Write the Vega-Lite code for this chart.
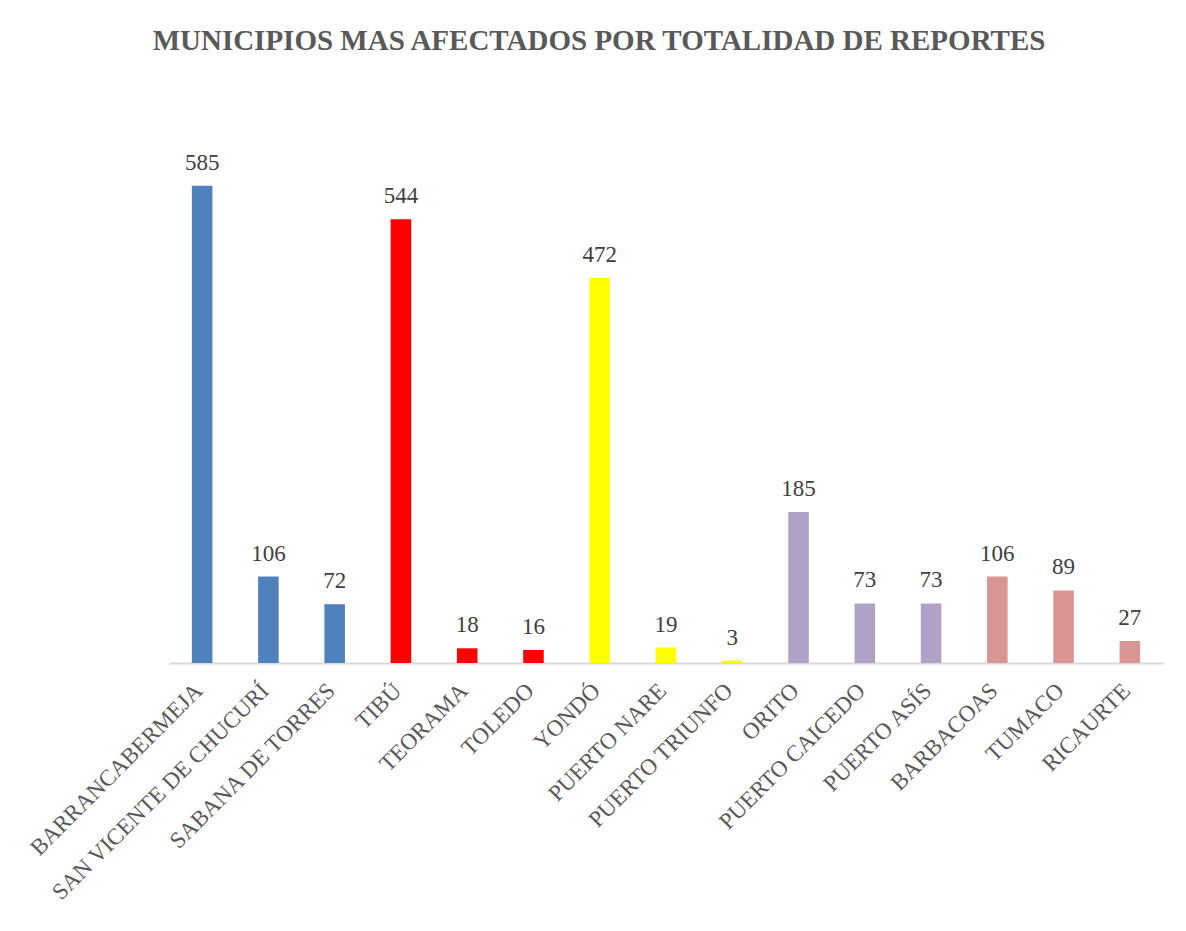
{
  "$schema": "https://vega.github.io/schema/vega-lite/v6.json",
  "width": 994,
  "height": 571,
  "autosize": "none",
  "padding": {"left": 169, "top": 92, "right": 23, "bottom": 268},
  "background": "white",
  "title": {
    "text": "MUNICIPIOS MAS AFECTADOS POR TOTALIDAD DE REPORTES",
    "font": "Liberation Serif",
    "fontSize": 29,
    "fontWeight": "bold",
    "color": "#595959",
    "anchor": "middle",
    "dx": -67,
    "offset": 13,
    "baseline": "alphabetic"
  },
  "data": {
    "values": [
      {"municipio": "BARRANCABERMEJA", "reportes": 585, "grupo": "A"},
      {"municipio": "SAN VICENTE DE CHUCURÍ", "reportes": 106, "grupo": "A"},
      {"municipio": "SABANA DE TORRES", "reportes": 72, "grupo": "A"},
      {"municipio": "TIBÚ", "reportes": 544, "grupo": "B"},
      {"municipio": "TEORAMA", "reportes": 18, "grupo": "B"},
      {"municipio": "TOLEDO", "reportes": 16, "grupo": "B"},
      {"municipio": "YONDÓ", "reportes": 472, "grupo": "C"},
      {"municipio": "PUERTO NARE", "reportes": 19, "grupo": "C"},
      {"municipio": "PUERTO TRIUNFO", "reportes": 3, "grupo": "C"},
      {"municipio": "ORITO", "reportes": 185, "grupo": "D"},
      {"municipio": "PUERTO CAICEDO", "reportes": 73, "grupo": "D"},
      {"municipio": "PUERTO ASÍS", "reportes": 73, "grupo": "D"},
      {"municipio": "BARBACOAS", "reportes": 106, "grupo": "E"},
      {"municipio": "TUMACO", "reportes": 89, "grupo": "E"},
      {"municipio": "RICAURTE", "reportes": 27, "grupo": "E"}
    ]
  },
  "encoding": {
    "x": {
      "field": "municipio",
      "type": "nominal",
      "sort": null,
      "scale": {"paddingInner": 0.69, "paddingOuter": 0.345},
      "axis": {
        "title": null,
        "labelAngle": -45,
        "labelFont": "Liberation Serif",
        "labelFontSize": 23,
        "labelColor": "#595959",
        "labelPadding": 16,
        "labelOffset": -11,
        "labelLimit": 400,
        "ticks": false,
        "domainColor": "#d9d9d9",
        "domainWidth": 2,
        "grid": false
      }
    },
    "y": {
      "field": "reportes",
      "type": "quantitative",
      "scale": {"domain": [0, 700]},
      "axis": null
    }
  },
  "layer": [
    {
      "mark": {"type": "bar"},
      "encoding": {
        "color": {
          "field": "grupo",
          "type": "nominal",
          "scale": {
            "domain": ["A", "B", "C", "D", "E"],
            "range": ["#4F81BD", "#FF0000", "#FFFF00", "#B2A1C7", "#D99594"]
          },
          "legend": null
        }
      }
    },
    {
      "mark": {
        "type": "text",
        "font": "Liberation Serif",
        "fontSize": 23,
        "color": "#404040",
        "baseline": "alphabetic",
        "dy": -16
      },
      "encoding": {"text": {"field": "reportes", "type": "quantitative"}}
    }
  ],
  "config": {"view": {"stroke": null}}
}
